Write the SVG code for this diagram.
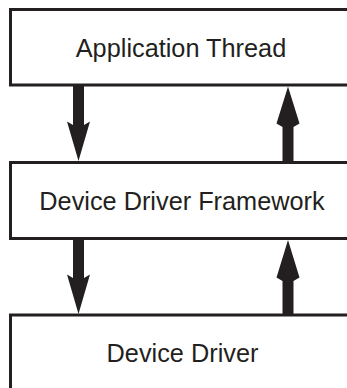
<svg xmlns="http://www.w3.org/2000/svg" width="347" height="388" viewBox="0 0 347 388">
  <style>
    .box { fill: #ffffff; stroke: #231f20; stroke-width: 3; }
    .lbl { font-family: "Liberation Sans", Arial, sans-serif; font-size: 25.3px; fill: #231f20; text-anchor: middle; }
    .arr { fill: #231f20; stroke: none; }
  </style>
  <rect width="347" height="388" fill="#ffffff"/>
  <g id="connectors">
    <path class="arr" d="M73,86 L84,86 L84,125 L90,121.5 L78.5,161 L67,121.5 L73,125 Z"/>
    <path class="arr" d="M282.5,161 L293.5,161 L293.5,127 L299.5,123.5 L288,86.5 L276.5,123.5 L282.5,127 Z"/>
    <path class="arr" d="M73,239 L84,239 L84,278 L90,274.5 L78.5,314 L67,274.5 L73,278 Z"/>
    <path class="arr" d="M282.5,314 L293.5,314 L293.5,281 L299.5,277.5 L288,240 L276.5,277.5 L282.5,281 Z"/>
  </g>
  <g id="application-thread">
    <rect class="box" x="10.5" y="9.5" width="345" height="75.5"/>
    <text class="lbl" x="181" y="56.5">Application Thread</text>
  </g>
  <g id="device-driver-framework">
    <rect class="box" x="10.5" y="162.5" width="345" height="76"/>
    <text class="lbl" x="182" y="209.5">Device Driver Framework</text>
  </g>
  <g id="device-driver">
    <rect class="box" x="10.5" y="315" width="345" height="80"/>
    <text class="lbl" x="182.5" y="362">Device Driver</text>
  </g>
</svg>
